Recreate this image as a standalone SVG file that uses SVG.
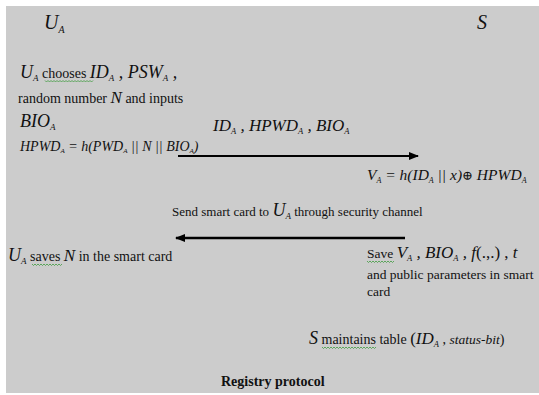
<svg xmlns="http://www.w3.org/2000/svg" width="539" height="395" viewBox="0 0 539 395" font-size="14">
<style>
  text { font-family: "Liberation Serif", "Times New Roman", serif; fill: #111; }
  .i { font-style: italic; }
  .sub { font-style: italic; }
  .wavy { fill: none; stroke: #3d9a3d; stroke-width: 0.8; }
  .arrow { stroke: #000; fill: none; }
</style>
<defs>
  <marker id="ah" markerWidth="10" markerHeight="8" refX="9" refY="4" orient="auto" markerUnits="userSpaceOnUse">
    <path d="M0 0 L10 4 L0 8 Z" fill="#000"/>
  </marker>
</defs>
<rect x="0" y="0" width="539" height="395" fill="#ffffff"/>
<rect x="6" y="6" width="533" height="387" fill="#cccccc"/>

<g id="user-label">
  <text x="44" y="29" class="i" font-size="20">U<tspan class="sub" font-size="10" dy="4">A</tspan></text>
</g>
<g id="server-label">
  <text x="477" y="29" class="i" font-size="20">S</text>
</g>

<g id="user-choose">
  <text x="20" y="78" font-size="14"><tspan class="i" font-size="18">U</tspan><tspan class="sub" font-size="9" dy="3">A</tspan><tspan dy="-3"> chooses </tspan><tspan class="i" font-size="18">ID</tspan><tspan class="sub" font-size="9" dy="3">A</tspan><tspan dy="-3" class="i" font-size="18"> , PSW</tspan><tspan class="sub" font-size="9" dy="3">A</tspan><tspan dy="-3" class="i" font-size="18"> ,</tspan></text>
  <path class="wavy" d="M45 80.5 l1.5 1.5 l1.5 -1.5 l1.5 1.5 l1.5 -1.5 l1.5 1.5 l1.5 -1.5 l1.5 1.5 l1.5 -1.5 l1.5 1.5 l1.5 -1.5 l1.5 1.5 l1.5 -1.5 l1.5 1.5 l1.5 -1.5 l1.5 1.5 l1.5 -1.5 l1.5 1.5 l1.5 -1.5 l1.5 1.5 l1.5 -1.5 l1.5 1.5 l1.5 -1.5 l1.5 1.5 l1.5 -1.5 l1.5 1.5 l1.5 -1.5 l1.5 1.5 l1.5 -1.5 l1.5 1.5 l1.5 -1.5 l1.5 1.5 l1.5 -1.5"/>
  <text x="18" y="103" font-size="14">random number <tspan class="i" font-size="17">N</tspan> and inputs</text>
  <text x="20" y="127"><tspan class="i" font-size="18">BIO</tspan><tspan class="sub" font-size="9" dy="3">A</tspan></text>
  <text x="20" y="151" class="i" font-size="14">HPWD<tspan class="sub" font-size="7" dy="2">A</tspan><tspan dy="-2"> = h(PWD</tspan><tspan class="sub" font-size="7" dy="2">A</tspan><tspan dy="-2"> || N || BIO</tspan><tspan class="sub" font-size="7" dy="2">A</tspan><tspan dy="-2">)</tspan></text>
</g>

<g id="msg1-label">
  <text x="213" y="131" class="i" font-size="17">ID<tspan class="sub" font-size="8.5" dy="3">A</tspan><tspan dy="-3"> , HPWD</tspan><tspan class="sub" font-size="8.5" dy="3">A</tspan><tspan dy="-3"> , BIO</tspan><tspan class="sub" font-size="8.5" dy="3">A</tspan></text>
</g>

<g id="server-compute">
  <text x="367" y="180" class="i" font-size="15.5">V<tspan class="sub" font-size="8" dy="3">A</tspan><tspan dy="-3"> = h(ID</tspan><tspan class="sub" font-size="8" dy="3">A</tspan><tspan dy="-3"> || x)</tspan><tspan font-style="normal" font-family="DejaVu Serif, serif" font-size="13">⊕</tspan><tspan> HPWD</tspan><tspan class="sub" font-size="8" dy="3">A</tspan></text>
</g>

<g id="msg2-label">
  <text x="172" y="216" font-size="13">Send smart card to <tspan class="i" font-size="18">U</tspan><tspan class="sub" font-size="9" dy="3">A</tspan><tspan dy="-3"> through security channel</tspan></text>
</g>

<g id="user-save">
  <text x="8" y="261" font-size="14"><tspan class="i" font-size="18">U</tspan><tspan class="sub" font-size="9" dy="3">A</tspan><tspan dy="-3"> saves </tspan><tspan class="i" font-size="17">N</tspan> in the smart card</text>
  <path class="wavy" d="M32 264 l1.5 1.5 l1.5 -1.5 l1.5 1.5 l1.5 -1.5 l1.5 1.5 l1.5 -1.5 l1.5 1.5 l1.5 -1.5 l1.5 1.5 l1.5 -1.5 l1.5 1.5 l1.5 -1.5 l1.5 1.5 l1.5 -1.5 l1.5 1.5 l1.5 -1.5 l1.5 1.5 l1.5 -1.5 l1.5 1.5 l1.5 -1.5"/>
</g>

<g id="server-save">
  <text x="367" y="258" font-size="13.5">Save <tspan class="i" font-size="17">V</tspan><tspan class="sub" font-size="8.5" dy="3">A</tspan><tspan dy="-3" class="i" font-size="17"> , BIO</tspan><tspan class="sub" font-size="8.5" dy="3">A</tspan><tspan dy="-3" class="i" font-size="17"> , f</tspan><tspan font-size="17">(.,.) , </tspan><tspan class="i" font-size="17">t</tspan></text>
  <path class="wavy" d="M367 261 l1.5 1.5 l1.5 -1.5 l1.5 1.5 l1.5 -1.5 l1.5 1.5 l1.5 -1.5 l1.5 1.5 l1.5 -1.5 l1.5 1.5 l1.5 -1.5 l1.5 1.5 l1.5 -1.5 l1.5 1.5 l1.5 -1.5 l1.5 1.5 l1.5 -1.5 l1.5 1.5 l1.5 -1.5"/>
  <text x="367" y="279" font-size="13.5">and public parameters in smart</text>
  <text x="367" y="296" font-size="13.5">card</text>
</g>

<g id="server-table">
  <text x="309" y="344" font-size="14"><tspan class="i" font-size="18">S</tspan> maintains table <tspan font-size="17">(</tspan><tspan class="i" font-size="17">ID</tspan><tspan class="sub" font-size="8.5" dy="3">A</tspan><tspan dy="-3"> , </tspan><tspan class="i" font-size="13.5">status-bit</tspan>)</text>
  <path class="wavy" d="M322 347 l1.5 1.5 l1.5 -1.5 l1.5 1.5 l1.5 -1.5 l1.5 1.5 l1.5 -1.5 l1.5 1.5 l1.5 -1.5 l1.5 1.5 l1.5 -1.5 l1.5 1.5 l1.5 -1.5 l1.5 1.5 l1.5 -1.5 l1.5 1.5 l1.5 -1.5 l1.5 1.5 l1.5 -1.5 l1.5 1.5 l1.5 -1.5 l1.5 1.5 l1.5 -1.5 l1.5 1.5 l1.5 -1.5 l1.5 1.5 l1.5 -1.5 l1.5 1.5 l1.5 -1.5 l1.5 1.5 l1.5 -1.5 l1.5 1.5 l1.5 -1.5 l1.5 1.5 l1.5 -1.5 l1.5 1.5 l1.5 -1.5"/>
</g>

<g id="caption">
  <text x="221" y="386" font-weight="bold" font-size="14">Registry protocol</text>
</g>

<g id="connectors">
  <line class="arrow" x1="178" y1="156" x2="418" y2="156" stroke-width="2" marker-end="url(#ah)"/>
  <line class="arrow" x1="405" y1="238" x2="176" y2="238" stroke-width="2.5" marker-end="url(#ah)"/>
</g>
</svg>
